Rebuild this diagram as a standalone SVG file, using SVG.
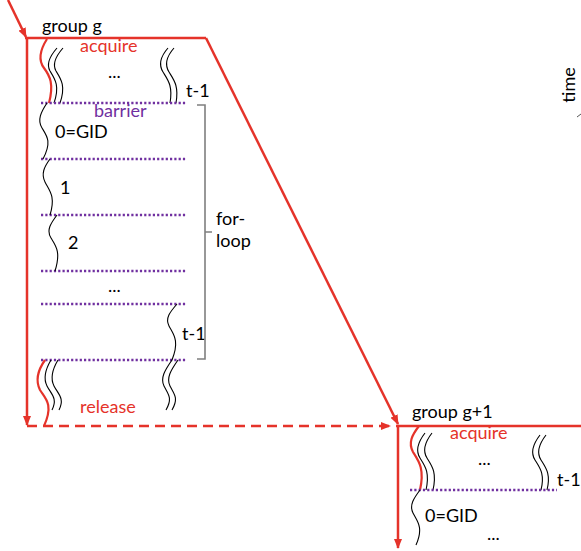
<svg xmlns="http://www.w3.org/2000/svg" width="581" height="551" viewBox="0 0 581 551">
<style>
text{font-family:Lato,"Liberation Sans",sans-serif;font-size:18px;fill:#000}
.r{fill:#e5332a}
.p{fill:#7030a0}
.red{stroke:#e5332a;stroke-width:2.5;fill:none}
.w{stroke:#000;stroke-width:1.1;fill:none}
.wr{stroke:#e5332a;stroke-width:2.2;fill:none}
.dot{stroke:#7030a0;stroke-width:2.4;stroke-dasharray:2.2 2.1;fill:none}
.br{stroke:#7f7f7f;stroke-width:1.6;fill:none}
</style>
<defs>
<marker id="ah" markerWidth="10" markerHeight="8" refX="9" refY="4" orient="auto" markerUnits="userSpaceOnUse">
<path d="M0,0 L10,4 L0,8 Z" fill="#e5332a"/>
</marker>
</defs>
<g id="connectors">
<line class="red" x1="8" y1="0" x2="26" y2="37" marker-end="url(#ah)"/>
<line class="red" x1="25" y1="38" x2="206" y2="38"/>
<line class="red" x1="27" y1="38" x2="27" y2="425" marker-end="url(#ah)"/>
<line class="red" x1="206" y1="38" x2="398" y2="424" marker-end="url(#ah)"/>
<line class="red" x1="27" y1="426" x2="390" y2="426" stroke-dasharray="10 6" marker-end="url(#ah)"/>
<line class="red" x1="396" y1="426" x2="581" y2="426"/>
<line class="red" x1="398" y1="426" x2="398" y2="548" marker-end="url(#ah)"/>
<line x1="577" y1="117" x2="581" y2="114" stroke="#555" stroke-width="1"/>
</g>
<g id="group-g">
<text x="42" y="32">group g</text>
<text class="r" x="80" y="52">acquire</text>
<text x="108" y="78">...</text>
<text x="186" y="97">t-1</text>
<path class="wr" d="M47,39 C40,50 38,60 44,68 C50,76 54,84 49,103"/>
<path class="w" d="M57,48 C50,56 46,64 50,71 C55,79 60,86 54,103"/>
<path class="w" d="M63,48 C56,56 52,64 56,71 C61,79 66,86 60,103"/>
<path class="w" d="M168,48 C161,56 158,64 163,72 C168,80 173,86 170,103"/>
<path class="w" d="M174,48 C167,56 164,64 169,72 C174,80 179,86 176,103"/>
</g>
<g id="barriers">
<line class="dot" x1="41" y1="103" x2="186" y2="103"/>
<line class="dot" x1="41" y1="159" x2="186" y2="159"/>
<line class="dot" x1="41" y1="215" x2="186" y2="215"/>
<line class="dot" x1="41" y1="271" x2="186" y2="271"/>
<line class="dot" x1="41" y1="304" x2="186" y2="304"/>
<line class="dot" x1="41" y1="360" x2="186" y2="360"/>
<text class="p" x="94" y="117">barrier</text>
</g>
<g id="loop">
<path class="w" d="M47,103 C41,112 37,120 42,128 C47,136 52,142 43,159"/>
<text x="55" y="138">0=GID</text>
<path class="w" d="M50,159 C44,167 41,174 45,182 C49,190 56,196 50,215"/>
<text x="60" y="194">1</text>
<path class="w" d="M57,215 C51,223 46,230 51,238 C56,246 61,252 55,271"/>
<text x="68" y="249">2</text>
<text x="108" y="292">...</text>
<path class="w" d="M177,304 C170,312 165,318 169,326 C173,334 180,340 172,360"/>
<text x="182" y="340">t-1</text>
</g>
<g id="bracket">
<path class="br" d="M197,105 H205 V359 H197 M205,232 H212"/>
<text x="216" y="225">for-</text>
<text x="216" y="247">loop</text>
</g>
<g id="release">
<path class="wr" d="M45,360 C38,370 35,380 40,390 C45,398 54,404 44,426"/>
<path class="w" d="M51,360 C45,370 43,378 47,386 C51,394 58,398 52,410"/>
<path class="w" d="M58,360 C52,370 50,378 54,386 C58,394 65,398 59,410"/>
<path class="w" d="M172,360 C165,370 160,378 164,386 C168,394 173,398 166,410"/>
<path class="w" d="M178,360 C171,370 166,378 170,386 C174,394 179,398 172,410"/>
<text class="r" x="80" y="413">release</text>
</g>
<g id="group-g1">
<text x="412" y="418">group g+1</text>
<text class="r" x="450" y="439">acquire</text>
<text x="478" y="465">...</text>
<text x="557" y="486">t-1</text>
<path class="wr" d="M419,426 C412,435 408,443 413,452 C418,460 425,468 420,490"/>
<path class="w" d="M425,433 C418,442 415,450 420,458 C425,466 430,472 426,490"/>
<path class="w" d="M432,433 C425,442 422,450 427,458 C432,466 437,472 433,490"/>
<path class="w" d="M540,435 C533,444 530,452 535,460 C540,468 545,474 541,490"/>
<path class="w" d="M546,435 C539,444 536,452 541,460 C546,468 551,474 547,490"/>
<line class="dot" x1="410" y1="490" x2="557" y2="490"/>
<path class="w" d="M420,490 C414,498 409,505 413,513 C417,521 424,527 416,545"/>
<text x="425" y="522">0=GID</text>
<text x="487" y="540">...</text>
</g>
<g id="time">
<text transform="translate(575,85) rotate(-90)" text-anchor="middle">time</text>
</g>
</svg>
